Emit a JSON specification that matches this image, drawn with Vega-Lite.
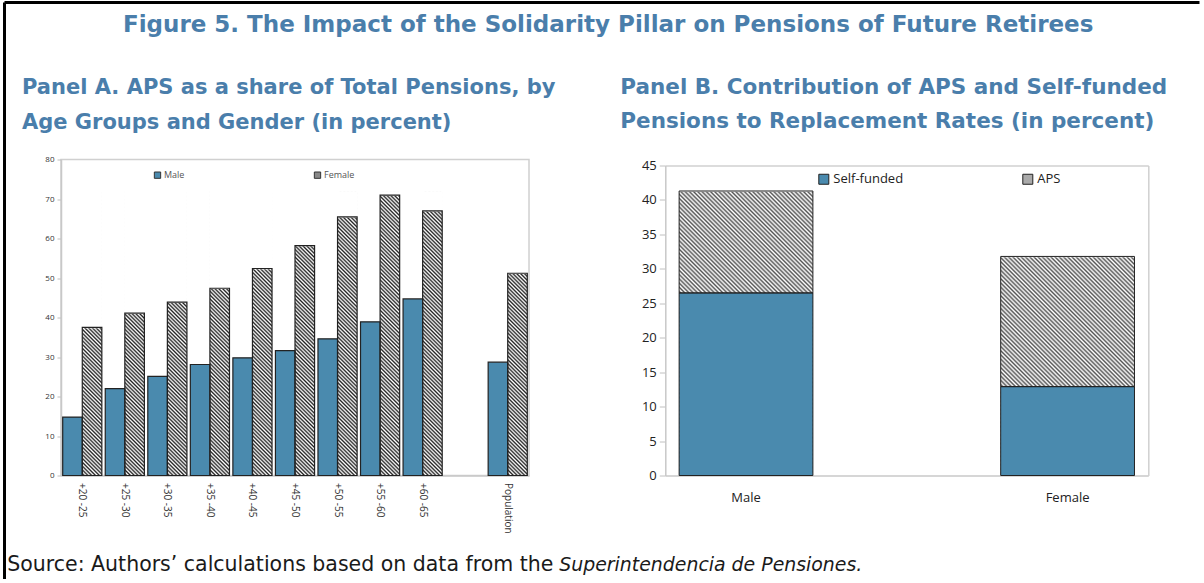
{
"$schema": "https://vega.github.io/schema/vega-lite/v6.json",
"background": "white",
"padding": {"left": 4, "top": 2, "right": 0, "bottom": 0},
"datasets": {
"ages": [
{"age":"+20 -25","gender":"Male","value":14.8},{"age":"+20 -25","gender":"Female","value":37.5},
{"age":"+25 -30","gender":"Male","value":22.0},{"age":"+25 -30","gender":"Female","value":41.1},
{"age":"+30 -35","gender":"Male","value":25.1},{"age":"+30 -35","gender":"Female","value":43.9},
{"age":"+35 -40","gender":"Male","value":28.1},{"age":"+35 -40","gender":"Female","value":47.4},
{"age":"+40 -45","gender":"Male","value":29.8},{"age":"+40 -45","gender":"Female","value":52.4},
{"age":"+45 -50","gender":"Male","value":31.6},{"age":"+45 -50","gender":"Female","value":58.2},
{"age":"+50 -55","gender":"Male","value":34.6},{"age":"+50 -55","gender":"Female","value":65.5},
{"age":"+55 -60","gender":"Male","value":38.9},{"age":"+55 -60","gender":"Female","value":71.0},
{"age":"+60 -65","gender":"Male","value":44.7},{"age":"+60 -65","gender":"Female","value":67.0},
{"age":"Population","gender":"Male","value":28.7},{"age":"Population","gender":"Female","value":51.2}
],
"repl": [
{"gender":"Male","component":"Self-funded","value":26.5},{"gender":"Male","component":"APS","value":14.8},
{"gender":"Female","component":"Self-funded","value":12.9},{"gender":"Female","component":"APS","value":18.9}
]
},
"config": {
"font": "Open Sans",
"view": {"stroke": "#d0d0d0", "strokeWidth": 1.5},
"axis": {"grid": false, "labelFont": "Open Sans", "domainColor": "#c8c8c8", "domainWidth": 1.5, "tickColor": "#c0c0c0"},
"legend": {"labelFont": "Open Sans", "padding": 0},
"title": {"font": "DejaVu Sans", "fontWeight": "bold", "color": "#4a7eab"}
},
"bounds": "flush",
"spacing": 156.5,
"vconcat": [
{
"width": 1, "height": 1,
"view": {"stroke": null},
"data": {"values": []},
"mark": {"type": "point", "opacity": 0},
"encoding": {
"x": {"field": "a", "type": "quantitative", "scale": {"domain": [0, 1], "range": [-57, 1138]}, "axis": {"orient": "top", "title": null, "labels": false, "ticks": false, "domainColor": "#000", "domainWidth": 3}},
"y": {"field": "b", "type": "quantitative", "scale": {"domain": [0, 1], "range": [0, 577]}, "axis": {"orient": "left", "offset": 57, "title": null, "labels": false, "ticks": false, "domainColor": "#000", "domainWidth": 3}}
}
},
{
"title": {"text": "Figure 5. The Impact of the Solidarity Pillar on Pensions of Future Retirees", "fontSize": 23, "anchor": "middle", "offset": 39, "dx": 21},
"vconcat": [
{
"title": {"text": "Superintendencia de Pensiones.", "orient": "bottom", "anchor": "start", "font": "DejaVu Sans", "fontSize": 18.9, "fontWeight": "normal", "fontStyle": "italic", "color": "#1a1a1a", "dx": 552, "dy": -19, "offset": 0},
"vconcat": [
{
"title": {"text": "Source: Authors’ calculations based on data from the", "orient": "bottom", "anchor": "start", "font": "DejaVu Sans", "fontSize": 20.5, "fontWeight": "normal", "color": "#1a1a1a", "dx": -14, "offset": 21},
"bounds": "flush",
"spacing": 136.3,
"resolve": {"scale": {"fill": "independent"}, "legend": {"fill": "independent"}},
"hconcat": [
{
"width": 468, "height": 316,
"data": {"name": "ages"},
"title": {"text": ["Panel A. APS as a share of Total Pensions, by", "Age Groups and Gender (in percent)"], "anchor": "start", "frame": "group", "dx": -39, "fontSize": 21, "lineHeight": 34.5, "offset": 23},
"encoding": {
"x": {"field": "age", "type": "nominal", "sort": null, "scale": {"domain": ["+20 -25","+25 -30","+30 -35","+35 -40","+40 -45","+45 -50","+50 -55","+55 -60","+60 -65"," ","Population"], "paddingInner": 0.08, "paddingOuter": 0.04},
"axis": {"title": null, "labelAngle": 90, "labelAlign": "left", "labelBaseline": "middle", "labelFontSize": 10, "labelColor": "#333", "labelPadding": 7, "ticks": false}},
"xOffset": {"field": "gender", "type": "nominal", "scale": {"domain": ["Male","Female"], "paddingInner": 0, "paddingOuter": 0}}
},
"layer": [
{
"transform": [{"filter": "datum.gender === 'Female'"}],
"mark": {"type": "bar", "strokeWidth": 0, "fill": {"gradient": "linear", "x1": 0, "y1": 1, "x2": 0.0732, "y2": -0.0639, "stops": [{"offset":0,"color":"#fff"},{"offset":0.00625,"color":"#222"},{"offset":0.0125,"color":"#fff"},{"offset":0.01875,"color":"#222"},{"offset":0.025,"color":"#fff"},{"offset":0.03125,"color":"#222"},{"offset":0.0375,"color":"#fff"},{"offset":0.04375,"color":"#222"},{"offset":0.05,"color":"#fff"},{"offset":0.05625,"color":"#222"},{"offset":0.0625,"color":"#fff"},{"offset":0.06875,"color":"#222"},{"offset":0.075,"color":"#fff"},{"offset":0.08125,"color":"#222"},{"offset":0.0875,"color":"#fff"},{"offset":0.09375,"color":"#222"},{"offset":0.1,"color":"#fff"},{"offset":0.10625,"color":"#222"},{"offset":0.1125,"color":"#fff"},{"offset":0.11875,"color":"#222"},{"offset":0.125,"color":"#fff"},{"offset":0.13125,"color":"#222"},{"offset":0.1375,"color":"#fff"},{"offset":0.14375,"color":"#222"},{"offset":0.15,"color":"#fff"},{"offset":0.15625,"color":"#222"},{"offset":0.1625,"color":"#fff"},{"offset":0.16875,"color":"#222"},{"offset":0.175,"color":"#fff"},{"offset":0.18125,"color":"#222"},{"offset":0.1875,"color":"#fff"},{"offset":0.19375,"color":"#222"},{"offset":0.2,"color":"#fff"},{"offset":0.20625,"color":"#222"},{"offset":0.2125,"color":"#fff"},{"offset":0.21875,"color":"#222"},{"offset":0.225,"color":"#fff"},{"offset":0.23125,"color":"#222"},{"offset":0.2375,"color":"#fff"},{"offset":0.24375,"color":"#222"},{"offset":0.25,"color":"#fff"},{"offset":0.25625,"color":"#222"},{"offset":0.2625,"color":"#fff"},{"offset":0.26875,"color":"#222"},{"offset":0.275,"color":"#fff"},{"offset":0.28125,"color":"#222"},{"offset":0.2875,"color":"#fff"},{"offset":0.29375,"color":"#222"},{"offset":0.3,"color":"#fff"},{"offset":0.30625,"color":"#222"},{"offset":0.3125,"color":"#fff"},{"offset":0.31875,"color":"#222"},{"offset":0.325,"color":"#fff"},{"offset":0.33125,"color":"#222"},{"offset":0.3375,"color":"#fff"},{"offset":0.34375,"color":"#222"},{"offset":0.35,"color":"#fff"},{"offset":0.35625,"color":"#222"},{"offset":0.3625,"color":"#fff"},{"offset":0.36875,"color":"#222"},{"offset":0.375,"color":"#fff"},{"offset":0.38125,"color":"#222"},{"offset":0.3875,"color":"#fff"},{"offset":0.39375,"color":"#222"},{"offset":0.4,"color":"#fff"},{"offset":0.40625,"color":"#222"},{"offset":0.4125,"color":"#fff"},{"offset":0.41875,"color":"#222"},{"offset":0.425,"color":"#fff"},{"offset":0.43125,"color":"#222"},{"offset":0.4375,"color":"#fff"},{"offset":0.44375,"color":"#222"},{"offset":0.45,"color":"#fff"},{"offset":0.45625,"color":"#222"},{"offset":0.4625,"color":"#fff"},{"offset":0.46875,"color":"#222"},{"offset":0.475,"color":"#fff"},{"offset":0.48125,"color":"#222"},{"offset":0.4875,"color":"#fff"},{"offset":0.49375,"color":"#222"},{"offset":0.5,"color":"#fff"},{"offset":0.50625,"color":"#222"},{"offset":0.5125,"color":"#fff"},{"offset":0.51875,"color":"#222"},{"offset":0.525,"color":"#fff"},{"offset":0.53125,"color":"#222"},{"offset":0.5375,"color":"#fff"},{"offset":0.54375,"color":"#222"},{"offset":0.55,"color":"#fff"},{"offset":0.55625,"color":"#222"},{"offset":0.5625,"color":"#fff"},{"offset":0.56875,"color":"#222"},{"offset":0.575,"color":"#fff"},{"offset":0.58125,"color":"#222"},{"offset":0.5875,"color":"#fff"},{"offset":0.59375,"color":"#222"},{"offset":0.6,"color":"#fff"},{"offset":0.60625,"color":"#222"},{"offset":0.6125,"color":"#fff"},{"offset":0.61875,"color":"#222"},{"offset":0.625,"color":"#fff"},{"offset":0.63125,"color":"#222"},{"offset":0.6375,"color":"#fff"},{"offset":0.64375,"color":"#222"},{"offset":0.65,"color":"#fff"},{"offset":0.65625,"color":"#222"},{"offset":0.6625,"color":"#fff"},{"offset":0.66875,"color":"#222"},{"offset":0.675,"color":"#fff"},{"offset":0.68125,"color":"#222"},{"offset":0.6875,"color":"#fff"},{"offset":0.69375,"color":"#222"},{"offset":0.7,"color":"#fff"},{"offset":0.70625,"color":"#222"},{"offset":0.7125,"color":"#fff"},{"offset":0.71875,"color":"#222"},{"offset":0.725,"color":"#fff"},{"offset":0.73125,"color":"#222"},{"offset":0.7375,"color":"#fff"},{"offset":0.74375,"color":"#222"},{"offset":0.75,"color":"#fff"},{"offset":0.75625,"color":"#222"},{"offset":0.7625,"color":"#fff"},{"offset":0.76875,"color":"#222"},{"offset":0.775,"color":"#fff"},{"offset":0.78125,"color":"#222"},{"offset":0.7875,"color":"#fff"},{"offset":0.79375,"color":"#222"},{"offset":0.8,"color":"#fff"},{"offset":0.80625,"color":"#222"},{"offset":0.8125,"color":"#fff"},{"offset":0.81875,"color":"#222"},{"offset":0.825,"color":"#fff"},{"offset":0.83125,"color":"#222"},{"offset":0.8375,"color":"#fff"},{"offset":0.84375,"color":"#222"},{"offset":0.85,"color":"#fff"},{"offset":0.85625,"color":"#222"},{"offset":0.8625,"color":"#fff"},{"offset":0.86875,"color":"#222"},{"offset":0.875,"color":"#fff"},{"offset":0.88125,"color":"#222"},{"offset":0.8875,"color":"#fff"},{"offset":0.89375,"color":"#222"},{"offset":0.9,"color":"#fff"},{"offset":0.90625,"color":"#222"},{"offset":0.9125,"color":"#fff"},{"offset":0.91875,"color":"#222"},{"offset":0.925,"color":"#fff"},{"offset":0.93125,"color":"#222"},{"offset":0.9375,"color":"#fff"},{"offset":0.94375,"color":"#222"},{"offset":0.95,"color":"#fff"},{"offset":0.95625,"color":"#222"},{"offset":0.9625,"color":"#fff"},{"offset":0.96875,"color":"#222"},{"offset":0.975,"color":"#fff"},{"offset":0.98125,"color":"#222"},{"offset":0.9875,"color":"#fff"},{"offset":0.99375,"color":"#222"},{"offset":1,"color":"#fff"}]}},
"encoding": {
"y": {"datum": 0, "type": "quantitative", "scale": {"domain": [0, 80], "nice": false}, "axis": {"title": null, "values": [0,10,20,30,40,50,60,70,80], "labelFontSize": 8, "labelColor": "#333", "tickSize": 4, "labelPadding": 3}},
"y2": {"datum": 72}
}
},
{
"transform": [{"filter": "datum.gender === 'Female'"}],
"mark": {"type": "bar", "fill": "#ffffff", "stroke": "#ffffff", "strokeWidth": 1.5},
"encoding": {
"y": {"field": "value", "type": "quantitative", "scale": {"domain": [0, 80], "nice": false}, "axis": {"title": null, "values": [0,10,20,30,40,50,60,70,80], "labelFontSize": 8, "labelColor": "#333", "tickSize": 4, "labelPadding": 3}},
"y2": {"datum": 72}
}
},
{
"mark": {"type": "bar", "stroke": "#222", "strokeWidth": 1.2},
"encoding": {
"y": {"field": "value", "type": "quantitative", "scale": {"domain": [0, 80], "nice": false}, "axis": {"title": null, "values": [0,10,20,30,40,50,60,70,80], "labelFontSize": 8, "labelColor": "#333", "tickSize": 4, "labelPadding": 3}},
"fill": {"field": "gender", "type": "nominal", "scale": {"domain": ["Male","Female"], "range": ["#4a8aae", "#888888"]},
"legend": {"title": null, "orient": "none", "legendX": 92, "legendY": 11, "direction": "horizontal", "symbolType": "square", "symbolSize": 40, "symbolStrokeColor": "#333", "symbolStrokeWidth": 1, "labelFontSize": 9, "labelColor": "#555", "columnPadding": 127, "labelOffset": 2}},
"fillOpacity": {"condition": {"test": "datum.gender === 'Female'", "value": 0}, "value": 1}
}
}
]
},
{
"width": 483, "height": 316,
"view": {"stroke": null},
"data": {"name": "repl"},
"transform": [{"stack": "value", "groupby": ["gender"], "sort": [{"field": "component", "order": "descending"}], "as": ["v0", "v1"]}],
"title": {"text": ["Panel B. Contribution of APS and Self-funded", "Pensions to Replacement Rates (in percent)"], "anchor": "start", "frame": "group", "dx": -45, "fontSize": 21.5, "lineHeight": 34.5, "offset": 27},
"resolve": {"axis": {"x": "independent", "y": "independent"}},
"layer": [
{
"transform": [{"filter": "datum.component === 'APS'"}],
"mark": {"type": "bar", "strokeWidth": 0, "fill": {"gradient": "linear", "x1": 0, "y1": 1, "x2": 0.5575, "y2": -0.2048, "stops": [{"offset":0,"color":"#fff"},{"offset":0.005,"color":"#555"},{"offset":0.01,"color":"#fff"},{"offset":0.015,"color":"#555"},{"offset":0.02,"color":"#fff"},{"offset":0.025,"color":"#555"},{"offset":0.03,"color":"#fff"},{"offset":0.035,"color":"#555"},{"offset":0.04,"color":"#fff"},{"offset":0.045,"color":"#555"},{"offset":0.05,"color":"#fff"},{"offset":0.055,"color":"#555"},{"offset":0.06,"color":"#fff"},{"offset":0.065,"color":"#555"},{"offset":0.07,"color":"#fff"},{"offset":0.075,"color":"#555"},{"offset":0.08,"color":"#fff"},{"offset":0.085,"color":"#555"},{"offset":0.09,"color":"#fff"},{"offset":0.095,"color":"#555"},{"offset":0.1,"color":"#fff"},{"offset":0.105,"color":"#555"},{"offset":0.11,"color":"#fff"},{"offset":0.115,"color":"#555"},{"offset":0.12,"color":"#fff"},{"offset":0.125,"color":"#555"},{"offset":0.13,"color":"#fff"},{"offset":0.135,"color":"#555"},{"offset":0.14,"color":"#fff"},{"offset":0.145,"color":"#555"},{"offset":0.15,"color":"#fff"},{"offset":0.155,"color":"#555"},{"offset":0.16,"color":"#fff"},{"offset":0.165,"color":"#555"},{"offset":0.17,"color":"#fff"},{"offset":0.175,"color":"#555"},{"offset":0.18,"color":"#fff"},{"offset":0.185,"color":"#555"},{"offset":0.19,"color":"#fff"},{"offset":0.195,"color":"#555"},{"offset":0.2,"color":"#fff"},{"offset":0.205,"color":"#555"},{"offset":0.21,"color":"#fff"},{"offset":0.215,"color":"#555"},{"offset":0.22,"color":"#fff"},{"offset":0.225,"color":"#555"},{"offset":0.23,"color":"#fff"},{"offset":0.235,"color":"#555"},{"offset":0.24,"color":"#fff"},{"offset":0.245,"color":"#555"},{"offset":0.25,"color":"#fff"},{"offset":0.255,"color":"#555"},{"offset":0.26,"color":"#fff"},{"offset":0.265,"color":"#555"},{"offset":0.27,"color":"#fff"},{"offset":0.275,"color":"#555"},{"offset":0.28,"color":"#fff"},{"offset":0.285,"color":"#555"},{"offset":0.29,"color":"#fff"},{"offset":0.295,"color":"#555"},{"offset":0.3,"color":"#fff"},{"offset":0.305,"color":"#555"},{"offset":0.31,"color":"#fff"},{"offset":0.315,"color":"#555"},{"offset":0.32,"color":"#fff"},{"offset":0.325,"color":"#555"},{"offset":0.33,"color":"#fff"},{"offset":0.335,"color":"#555"},{"offset":0.34,"color":"#fff"},{"offset":0.345,"color":"#555"},{"offset":0.35,"color":"#fff"},{"offset":0.355,"color":"#555"},{"offset":0.36,"color":"#fff"},{"offset":0.365,"color":"#555"},{"offset":0.37,"color":"#fff"},{"offset":0.375,"color":"#555"},{"offset":0.38,"color":"#fff"},{"offset":0.385,"color":"#555"},{"offset":0.39,"color":"#fff"},{"offset":0.395,"color":"#555"},{"offset":0.4,"color":"#fff"},{"offset":0.405,"color":"#555"},{"offset":0.41,"color":"#fff"},{"offset":0.415,"color":"#555"},{"offset":0.42,"color":"#fff"},{"offset":0.425,"color":"#555"},{"offset":0.43,"color":"#fff"},{"offset":0.435,"color":"#555"},{"offset":0.44,"color":"#fff"},{"offset":0.445,"color":"#555"},{"offset":0.45,"color":"#fff"},{"offset":0.455,"color":"#555"},{"offset":0.46,"color":"#fff"},{"offset":0.465,"color":"#555"},{"offset":0.47,"color":"#fff"},{"offset":0.475,"color":"#555"},{"offset":0.48,"color":"#fff"},{"offset":0.485,"color":"#555"},{"offset":0.49,"color":"#fff"},{"offset":0.495,"color":"#555"},{"offset":0.5,"color":"#fff"},{"offset":0.505,"color":"#555"},{"offset":0.51,"color":"#fff"},{"offset":0.515,"color":"#555"},{"offset":0.52,"color":"#fff"},{"offset":0.525,"color":"#555"},{"offset":0.53,"color":"#fff"},{"offset":0.535,"color":"#555"},{"offset":0.54,"color":"#fff"},{"offset":0.545,"color":"#555"},{"offset":0.55,"color":"#fff"},{"offset":0.555,"color":"#555"},{"offset":0.56,"color":"#fff"},{"offset":0.565,"color":"#555"},{"offset":0.57,"color":"#fff"},{"offset":0.575,"color":"#555"},{"offset":0.58,"color":"#fff"},{"offset":0.585,"color":"#555"},{"offset":0.59,"color":"#fff"},{"offset":0.595,"color":"#555"},{"offset":0.6,"color":"#fff"},{"offset":0.605,"color":"#555"},{"offset":0.61,"color":"#fff"},{"offset":0.615,"color":"#555"},{"offset":0.62,"color":"#fff"},{"offset":0.625,"color":"#555"},{"offset":0.63,"color":"#fff"},{"offset":0.635,"color":"#555"},{"offset":0.64,"color":"#fff"},{"offset":0.645,"color":"#555"},{"offset":0.65,"color":"#fff"},{"offset":0.655,"color":"#555"},{"offset":0.66,"color":"#fff"},{"offset":0.665,"color":"#555"},{"offset":0.67,"color":"#fff"},{"offset":0.675,"color":"#555"},{"offset":0.68,"color":"#fff"},{"offset":0.685,"color":"#555"},{"offset":0.69,"color":"#fff"},{"offset":0.695,"color":"#555"},{"offset":0.7,"color":"#fff"},{"offset":0.705,"color":"#555"},{"offset":0.71,"color":"#fff"},{"offset":0.715,"color":"#555"},{"offset":0.72,"color":"#fff"},{"offset":0.725,"color":"#555"},{"offset":0.73,"color":"#fff"},{"offset":0.735,"color":"#555"},{"offset":0.74,"color":"#fff"},{"offset":0.745,"color":"#555"},{"offset":0.75,"color":"#fff"},{"offset":0.755,"color":"#555"},{"offset":0.76,"color":"#fff"},{"offset":0.765,"color":"#555"},{"offset":0.77,"color":"#fff"},{"offset":0.775,"color":"#555"},{"offset":0.78,"color":"#fff"},{"offset":0.785,"color":"#555"},{"offset":0.79,"color":"#fff"},{"offset":0.795,"color":"#555"},{"offset":0.8,"color":"#fff"},{"offset":0.805,"color":"#555"},{"offset":0.81,"color":"#fff"},{"offset":0.815,"color":"#555"},{"offset":0.82,"color":"#fff"},{"offset":0.825,"color":"#555"},{"offset":0.83,"color":"#fff"},{"offset":0.835,"color":"#555"},{"offset":0.84,"color":"#fff"},{"offset":0.845,"color":"#555"},{"offset":0.85,"color":"#fff"},{"offset":0.855,"color":"#555"},{"offset":0.86,"color":"#fff"},{"offset":0.865,"color":"#555"},{"offset":0.87,"color":"#fff"},{"offset":0.875,"color":"#555"},{"offset":0.88,"color":"#fff"},{"offset":0.885,"color":"#555"},{"offset":0.89,"color":"#fff"},{"offset":0.895,"color":"#555"},{"offset":0.9,"color":"#fff"},{"offset":0.905,"color":"#555"},{"offset":0.91,"color":"#fff"},{"offset":0.915,"color":"#555"},{"offset":0.92,"color":"#fff"},{"offset":0.925,"color":"#555"},{"offset":0.93,"color":"#fff"},{"offset":0.935,"color":"#555"},{"offset":0.94,"color":"#fff"},{"offset":0.945,"color":"#555"},{"offset":0.95,"color":"#fff"},{"offset":0.955,"color":"#555"},{"offset":0.96,"color":"#fff"},{"offset":0.965,"color":"#555"},{"offset":0.97,"color":"#fff"},{"offset":0.975,"color":"#555"},{"offset":0.98,"color":"#fff"},{"offset":0.985,"color":"#555"},{"offset":0.99,"color":"#fff"},{"offset":0.995,"color":"#555"},{"offset":1,"color":"#fff"}]}},
"encoding": {
"x": {"field": "gender", "type": "nominal", "sort": null, "scale": {"domain": ["Male","Female"], "paddingInner": 0.584, "paddingOuter": 0.043}, "axis": {"title": null, "labelAngle": 0, "labelFontSize": 13, "labelColor": "#222", "labelPadding": 16, "ticks": false}},
"y": {"datum": 0, "type": "quantitative", "scale": {"domain": [0, 45], "range": [316, 6], "nice": false}, "axis": {"title": null, "values": [0,5,10,15,20,25,30,35,40,45], "labelFontSize": 13, "labelColor": "#222", "tickSize": 6, "labelPadding": 3}},
"y2": {"datum": 42}
}
},
{
"transform": [{"filter": "datum.component === 'APS'"}],
"mark": {"type": "bar", "fill": "#ffffff", "stroke": "#ffffff", "strokeWidth": 1.5},
"encoding": {
"x": {"field": "gender", "type": "nominal", "sort": null, "scale": {"domain": ["Male","Female"], "paddingInner": 0.584, "paddingOuter": 0.043}, "axis": {"orient": "top", "offset": -6, "title": null, "labels": false, "ticks": false, "domainColor": "#d0d0d0", "domainWidth": 1.5}},
"y": {"field": "v1", "type": "quantitative", "scale": {"domain": [0, 45], "range": [316, 6], "nice": false}, "axis": {"orient": "right", "title": null, "labels": false, "ticks": false, "domainColor": "#d0d0d0", "domainWidth": 1.5}},
"y2": {"datum": 42}
}
},
{
"mark": {"type": "bar", "stroke": "#222", "strokeWidth": 1},
"encoding": {
"x": {"field": "gender", "type": "nominal", "sort": null, "scale": {"domain": ["Male","Female"], "paddingInner": 0.584, "paddingOuter": 0.043}, "axis": null},
"y": {"field": "v0", "type": "quantitative", "scale": {"domain": [0, 45], "range": [316, 6], "nice": false}, "axis": null},
"y2": {"field": "v1"},
"fill": {"field": "component", "type": "nominal", "scale": {"domain": ["Self-funded","APS"], "range": ["#4a8aae", "#aaaaaa"]},
"legend": {"title": null, "orient": "none", "legendX": 152, "legendY": 13, "direction": "horizontal", "symbolType": "square", "symbolSize": 100, "symbolStrokeColor": "#222", "symbolStrokeWidth": 1, "labelFontSize": 13, "labelColor": "#222", "columnPadding": 117, "labelOffset": 3}},
"fillOpacity": {"condition": {"test": "datum.component === 'APS'", "value": 0}, "value": 1}
}
}
]
}
]
}
]
}
]
}
]
}
